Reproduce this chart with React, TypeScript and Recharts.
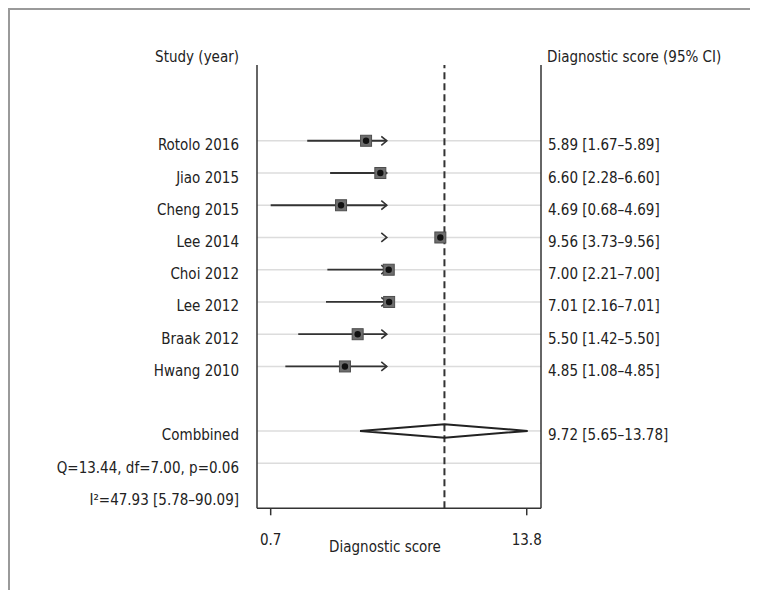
import React from 'react';
import { ScatterChart, Scatter, XAxis, YAxis, ReferenceLine } from 'recharts';

const FONT = "'DejaVu Sans Condensed', 'Liberation Sans Narrow', 'Arial Narrow', sans-serif";
const INK = '#222';
const FS = 15;

// rows counted from the top of the plot (reversed y axis)
const studyRows = [1, 2, 3, 4, 5, 6, 7, 8];
const studies = ['Rotolo 2016', 'Jiao 2015', 'Cheng 2015', 'Lee 2014', 'Choi 2012', 'Lee 2012', 'Braak 2012', 'Hwang 2010'];
const ciLabels = [
  '5.89 [1.67–5.89]', '6.60 [2.28–6.60]', '4.69 [0.68–4.69]', '9.56 [3.73–9.56]',
  '7.00 [2.21–7.00]', '7.01 [2.16–7.01]', '5.50 [1.42–5.50]', '4.85 [1.08–4.85]',
];
// positions as drawn in the figure
const estimates = [5.58, 6.31, 4.3, 9.38, 6.74, 6.76, 5.15, 4.5];
const lowEnds = [2.57, 3.74, 0.7, 6.64, 3.6, 3.53, 2.11, 1.45];
const arrowEnds = [6.64, 6.64, 6.64, 6.64, 6.64, 6.64, 6.64, 6.64];

const combinedRow = 10;
const hetRow = 11;
const i2Row = 12;
const pooled = 9.59;
const pooledLow = 5.27;
const pooledHigh = 13.85;
const pooledLabel = '9.72 [5.65–13.78]';
const hetLabel = 'Q=13.44, df=7.00, p=0.06';
const i2Label = 'I²=47.93 [5.78–90.09]';

const xTicks = [0.7, 13.8];
const X_DOMAIN: [number, number] = [0, 14.53];
const Y_DOMAIN: [number, number] = [-1.35, 12.4];
const gridRows = [1, 2, 3, 4, 5, 6, 7, 8, hetRow];
const DIAMOND_HALF = 0.21;

const leftText: Record<number, string> = {};
studyRows.forEach((r, i) => { leftText[r] = studies[i]; });
leftText[combinedRow] = 'Combbined';
leftText[hetRow] = hetLabel;
leftText[i2Row] = i2Label;

const rightText: Record<number, string> = {};
studyRows.forEach((r, i) => { rightText[r] = ciLabels[i]; });
rightText[combinedRow] = pooledLabel;

const points = studyRows.map((r, i) => ({ x: estimates[i], y: r }));
const arrows = studyRows.map((r, i) => ({ x: arrowEnds[i], y: r }));
const whiskers = studyRows.map((r, i) => [
  { x: lowEnds[i], y: r },
  { x: arrowEnds[i], y: r },
]);
const diamond = [
  { x: pooledLow, y: combinedRow },
  { x: pooled, y: combinedRow - DIAMOND_HALF },
  { x: pooledHigh, y: combinedRow },
  { x: pooled, y: combinedRow + DIAMOND_HALF },
  { x: pooledLow, y: combinedRow },
];

const Nothing = () => <g />;

const Marker = (props: any) => {
  const { cx, cy } = props;
  return (
    <g>
      <rect x={cx - 5.5} y={cy - 5.5} width={11} height={11} fill="#6e6e6e" stroke="#4d4d4d" strokeWidth={1} />
      <circle cx={cx} cy={cy} r={3.2} fill="#111" />
    </g>
  );
};

const Arrow = (props: any) => {
  const { cx, cy } = props;
  return (
    <path
      d={`M${cx - 5.5},${cy - 4.5}L${cx},${cy}L${cx - 5.5},${cy + 4.5}`}
      fill="none"
      stroke="#333"
      strokeWidth={1.6}
    />
  );
};

const LeftTick = (props: any) => (
  <text x={props.x} y={props.y} dy={9.5} textAnchor="end" fontSize={FS} fill={INK} fontFamily={FONT}>
    {leftText[props.payload.value]}
  </text>
);

const RightTick = (props: any) => (
  <text x={props.x} y={props.y} dy={9.5} textAnchor="start" fontSize={FS} fill={INK} fontFamily={FONT}>
    {rightText[props.payload.value]}
  </text>
);

const textStyle = { fontSize: FS, fill: INK, fontFamily: FONT };

export default function App() {
  return (
    <div style={{ borderTop: '2px solid #9a9a9a', borderLeft: '2px solid #9a9a9a', width: 748, height: 580 }}>
      <ScatterChart width={748} height={580} margin={{ top: 55, right: 117, bottom: 51.7, left: 147 }}>
        <XAxis
          type="number"
          dataKey="x"
          domain={X_DOMAIN}
          allowDataOverflow
          ticks={xTicks}
          height={30}
          axisLine={{ stroke: '#333', strokeWidth: 1.5 }}
          tickLine={{ stroke: '#333', strokeWidth: 1.5 }}
          tickSize={7}
          tickMargin={19}
          tick={textStyle}
          label={{
            content: ({ viewBox }: any) => (
              <text x={viewBox.x + viewBox.width / 2 - 14} y={viewBox.y + 44} textAnchor="middle" {...textStyle}>
                Diagnostic score
              </text>
            ),
          }}
        />
        <YAxis
          type="number"
          dataKey="y"
          domain={Y_DOMAIN}
          allowDataOverflow
          reversed
          width={100}
          ticks={[...studyRows, combinedRow, hetRow, i2Row]}
          interval={0}
          axisLine={{ stroke: '#333', strokeWidth: 1.5 }}
          tickLine={false}
          tickSize={0}
          tickMargin={18}
          tick={LeftTick}
          label={{
            content: ({ viewBox }: any) => (
              <text x={viewBox.x + viewBox.width - 18} y={viewBox.y - 3} textAnchor="end" {...textStyle}>
                Study (year)
              </text>
            ),
          }}
        />
        <YAxis
          yAxisId="right"
          orientation="right"
          type="number"
          dataKey="y"
          domain={Y_DOMAIN}
          allowDataOverflow
          reversed
          width={100}
          ticks={[...studyRows, combinedRow]}
          interval={0}
          axisLine={{ stroke: '#333', strokeWidth: 1.5 }}
          tickLine={false}
          tickSize={0}
          tickMargin={7}
          tick={RightTick}
          label={{
            content: ({ viewBox }: any) => (
              <text x={viewBox.x + 6} y={viewBox.y - 3} textAnchor="start" {...textStyle}>
                Diagnostic score (95% CI)
              </text>
            ),
          }}
        />

        {gridRows.map((r) => (
          <ReferenceLine key={`g${r}`} y={r} stroke="#dcdcdc" strokeWidth={1.5} />
        ))}
        <ReferenceLine
          segment={[{ x: X_DOMAIN[0], y: combinedRow }, { x: pooledLow, y: combinedRow }]}
          stroke="#dcdcdc"
          strokeWidth={1.5}
        />
        <ReferenceLine
          segment={[{ x: pooledHigh, y: combinedRow }, { x: X_DOMAIN[1], y: combinedRow }]}
          stroke="#dcdcdc"
          strokeWidth={1.5}
        />
        <ReferenceLine x={pooled} stroke="#333" strokeWidth={2} strokeDasharray="7 4" />

        {whiskers.map((w, i) => (
          <Scatter
            key={`w${i}`}
            data={w}
            line={{ stroke: '#333', strokeWidth: 1.8 }}
            shape={Nothing}
            isAnimationActive={false}
          />
        ))}
        <Scatter data={arrows} shape={Arrow} isAnimationActive={false} />
        <Scatter data={points} shape={Marker} isAnimationActive={false} />
        <Scatter
          data={diamond}
          line={{ stroke: '#222', strokeWidth: 2, strokeLinejoin: 'miter' }}
          shape={Nothing}
          isAnimationActive={false}
        />
      </ScatterChart>
    </div>
  );
}
